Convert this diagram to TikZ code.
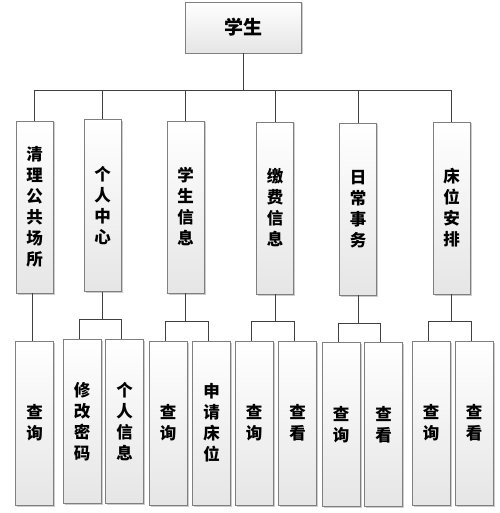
\documentclass[tikz,border=0pt]{standalone}
\usepackage{fontspec}
\newfontfamily\cjk{Noto Sans CJK SC}
\usetikzlibrary{shadows}
\definecolor{boxborder}{HTML}{7F7F7F}
\definecolor{linecol}{HTML}{404040}
\tikzset{
  box/.style={draw=boxborder, line width=0.9pt, rectangle, inner sep=0pt,
    top color=white, bottom color=black!10, align=center,
    drop shadow={shadow xshift=1.5pt, shadow yshift=-1.5pt, fill=black, opacity=0.2},
    font=\cjk\bfseries\fontsize{16.5}{21}\selectfont},
  rootbox/.style={box, minimum width=116pt, minimum height=51pt,
    font=\cjk\bfseries\fontsize{19}{22}\selectfont},
  midbox/.style={box, minimum width=37pt, minimum height=172pt},
  leafbox/.style={box, minimum width=38pt, minimum height=164pt},
  conn/.style={draw=linecol, line width=1pt}
}
\begin{document}
\begin{tikzpicture}[x=1pt,y=1pt]
\useasboundingbox (0,0) rectangle (499,-513);
% root
\node[rootbox] (root) at (243,-27.5) {学生};
% middle level
\node[midbox] (m1) at (34.5,-207) {清\\理\\公\\共\\场\\所};
\node[midbox] (m2) at (102.5,-205.5) {个\\人\\中\\心};
\node[midbox] (m3) at (185.5,-207) {学\\生\\信\\息};
\node[midbox] (m4) at (275,-208) {缴\\费\\信\\息};
\node[midbox] (m5) at (358,-209) {日\\常\\事\\务};
\node[midbox] (m6) at (451.5,-208) {床\\位\\安\\排};
% leaves
\node[leafbox] (b1) at (34.5,-423) {查\\询};
\node[leafbox] (b2) at (82,-421.5) {修\\改\\密\\码};
\node[leafbox] (b3) at (124.5,-421.5) {个\\人\\信\\息};
\node[leafbox] (b4) at (168,-423) {查\\询};
\node[leafbox] (b5) at (211.5,-423) {申\\请\\床\\位};
\node[leafbox] (b6) at (254,-423) {查\\询};
\node[leafbox] (b7) at (297.5,-423) {查\\看};
\node[leafbox] (b8) at (341,-424.5) {查\\询};
\node[leafbox] (b9) at (383.5,-424.5) {查\\看};
\node[leafbox] (b10) at (431,-423) {查\\询};
\node[leafbox] (b11) at (474,-423) {查\\看};
% bus from root
\coordinate (bus) at (0,-91);
\foreach \m in {m1,m2,m3,m4,m5,m6}
  \draw[conn] (root.south) -- (root.south |- bus) -| (\m.north);
% single child
\draw[conn] ([xshift=-2pt]m1.south) -- ([xshift=-2pt]b1.north);
% brackets
\foreach \m/\a/\b/\yy in {m2/b2/b3/-319, m3/b4/b5/-321, m4/b6/b7/-321, m5/b8/b9/-323, m6/b10/b11/-321}{
  \coordinate (br) at (0,\yy);
  \draw[conn] (\m.south) -- (\m.south |- br);
  \draw[conn] ([xshift=-3pt]\a.north) -- ([xshift=-3pt]\a.north |- br) -- ([xshift=-3pt]\b.north |- br) -- ([xshift=-3pt]\b.north);
}
\end{tikzpicture}
\end{document}
